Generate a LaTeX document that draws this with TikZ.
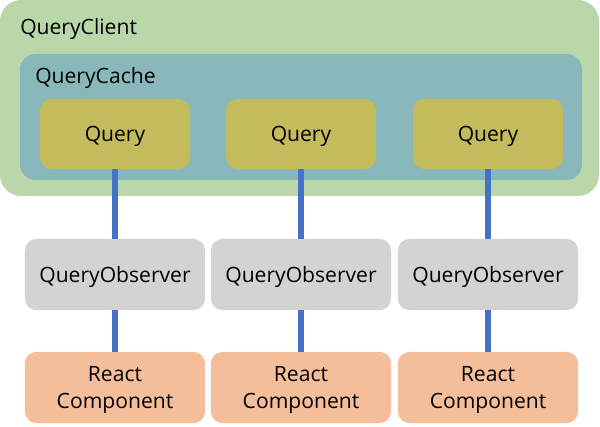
\documentclass[tikz,border=0pt]{standalone}
\usepackage{fontspec}
\setmainfont{Open Sans}
\definecolor{clientgreen}{HTML}{B9D7A8}
\definecolor{cacheteal}{HTML}{88B8BC}
\definecolor{queryolive}{HTML}{C4BB5C}
\definecolor{observergray}{HTML}{D3D3D3}
\definecolor{reactpeach}{HTML}{F5BE9A}
\definecolor{linkblue}{HTML}{4472C4}
\tikzset{
  query/.style={fill=queryolive,rounded corners=8pt,minimum width=3.75cm,minimum height=1.75cm,inner sep=0pt,text depth=0pt},
  observer/.style={fill=observergray,rounded corners=8pt,minimum width=4.5cm,minimum height=1.775cm,inner sep=0pt,text depth=0pt},
  component/.style={fill=reactpeach,rounded corners=8pt,minimum width=4.5cm,minimum height=1.775cm,inner sep=0pt,align=center,text depth=0pt},
  link/.style={draw=linkblue,line width=3.75pt}
}
\begin{document}
\begin{tikzpicture}[x=0.025cm,y=-0.025cm,font=\fontsize{15}{19.5}\selectfont]
\useasboundingbox (0,0) rectangle (600,427);
\fill [clientgreen,rounded corners=15pt] (0,0) rectangle (599,196);
\draw (20,29) node[anchor=west,inner sep=0pt] {QueryClient};
\fill [cacheteal,rounded corners=11pt] (20,54) rectangle (582,180);
\draw (35,78) node[anchor=west,inner sep=0pt] {QueryCache};
\foreach \i/\qx in {1/115, 2/301, 3/488} {
  \node[query] (q\i) at (\qx,134) {Query};
  \node[observer] (o\i) at (\qx,274.5) {QueryObserver};
  \node[component] (c\i) at (\qx,387.5) {React\\Component};
}
\foreach \i in {1,2,3} {
  \draw [link] (q\i.south) -- (o\i.north);
  \draw [link] (o\i.south) -- (c\i.north);
}
\end{tikzpicture}
\end{document}
